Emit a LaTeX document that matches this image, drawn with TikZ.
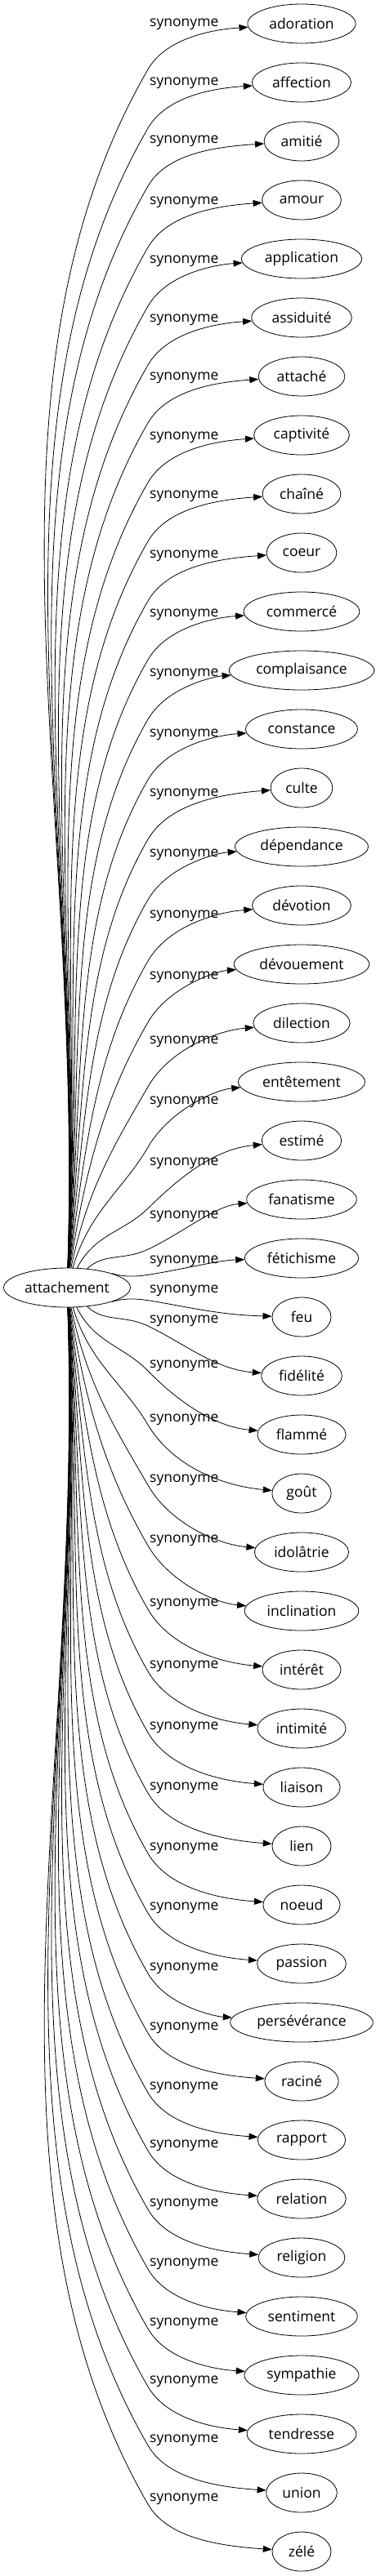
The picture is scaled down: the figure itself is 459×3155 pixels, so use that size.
\documentclass[tikz,border=0pt]{standalone}
\usepackage{fontspec}
\setmainfont{Open Sans}
\usetikzlibrary{arrows.meta,shapes.geometric}
\begin{document}
\begin{tikzpicture}[x=1pt,y=1pt,
  every node/.style={font=\fontsize{17.5}{21}\selectfont},
  term/.style={draw, ellipse, line width=0.8pt, minimum width=72pt, minimum height=48pt, inner xsep=7pt, inner ysep=2pt},
  rel/.style={anchor=west, inner sep=0pt},
  link/.style={line width=0.8pt, -{Triangle[length=11pt,width=8pt]}}]
\useasboundingbox (0,0) rectangle (459,-3155);
\node[term, minimum width=155pt, inner xsep=2pt] (src) at (82,-1577) {attachement};
\foreach \i/\w/\L in {1/adoration/30, 2/affection/102, 3/amitié/173, 4/amour/248, 5/application/320, 6/assiduité/392, 7/attaché/463, 8/captivité/536, 9/chaîné/608, 10/coeur/681, 11/commercé/753, 12/complaisance/826, 13/constance/900, 14/culte/973, 15/dépendance/1047, 16/dévotion/1122, 17/dévouement/1197, 18/dilection/1276, 19/entêtement/1350, 20/estimé/1425, 21/fanatisme/1490, 22/fétichisme/1545, 23/feu/1581, 24/fidélité/1618, 25/flammé/1673, 26/goût/1739, 27/idolâtrie/1813, 28/inclination/1887, 29/intérêt/1965, 30/intimité/2041, 31/liaison/2116, 32/lien/2190, 33/noeud/2264, 34/passion/2337, 35/persévérance/2411, 36/raciné/2484, 37/rapport/2557, 38/relation/2628, 39/religion/2700, 40/sentiment/2773, 41/sympathie/2846, 42/tendresse/2917, 43/union/2989, 44/zélé/3061}{
  \pgfmathsetmacro{\myT}{29+(\i-1)*72}
  \pgfmathsetmacro{\myS}{1577+(\myT-1577)*0.434}
  \pgfmathsetmacro{\myP}{max(\L+6,min(\L+55,\myS))}
  \pgfmathsetmacro{\myDy}{1577-\myP}
  \pgfmathsetmacro{\myAo}{atan2(\myDy,50)}
  \pgfmathsetmacro{\myAp}{max(-60,min(60,atan2(\myDy,99)))}
  \pgfmathsetmacro{\myB}{0.35*atan2(\myP-\myT,124)}
  % segment 1 control distances
  \pgfmathsetmacro{\myDa}{99/cos(atan2(\myDy,99))}
  \pgfmathsetmacro{\myKa}{0.39*\myDa+20}
  \pgfmathsetmacro{\myKb}{0.30*\myDa}
  \pgfmathsetmacro{\myCax}{82+\myKa*cos(\myAo)}
  \pgfmathsetmacro{\myCay}{-1577+\myKa*sin(\myAo)}
  \pgfmathsetmacro{\myCbx}{181-\myKb*cos(\myAp)}
  \pgfmathsetmacro{\myCby}{-\myP-\myKb*sin(\myAp)}
  % segment 2
  \pgfmathsetmacro{\myDb}{129/cos(atan2(\myP-\myT,129))}
  \pgfmathsetmacro{\myKc}{0.33*\myDb}
  \pgfmathsetmacro{\myCcx}{181+\myKc*cos(\myAp)}
  \pgfmathsetmacro{\myCcy}{-\myP+\myKc*sin(\myAp)}
  \pgfmathsetmacro{\myCdx}{310-\myKc*cos(\myB)}
  \pgfmathsetmacro{\myCdy}{-\myT-\myKc*sin(\myB)}
  \node[term] (t\i) at (369,-\myT) {\w};
  \node[rel] (l\i) at (183,-\L) {synonyme};
  \coordinate (p\i) at (181,-\myP);
  \draw[link] (src) .. controls (\myCax,\myCay) and (\myCbx,\myCby) .. (p\i)
     .. controls (\myCcx,\myCcy) and (\myCdx,\myCdy) .. (t\i);
}
\end{tikzpicture}
\end{document}
